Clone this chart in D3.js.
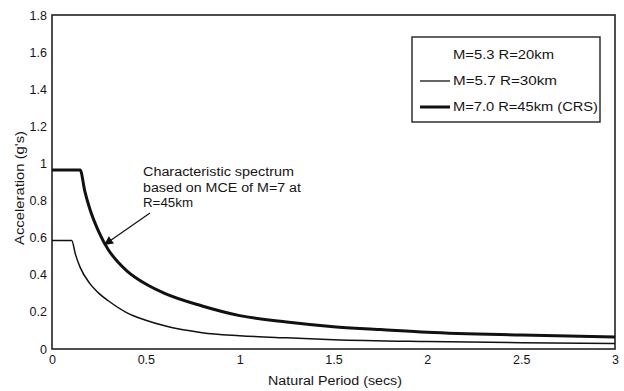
<!DOCTYPE html>
<html><head><meta charset="utf-8">
<script src="https://cdn.jsdelivr.net/npm/d3@7"></script>
<style>body{margin:0;background:#fff}svg{display:block}text{font-family:"Liberation Sans",Arial,sans-serif;fill:#151515}</style>
</head><body><svg id="c" width="624" height="391"></svg>
<script>
const periods57 = [0, 0.105, 0.125, 0.15, 0.2, 0.25, 0.3, 0.4, 0.5, 0.6, 0.8, 1.0, 1.25, 1.5, 2.0, 2.5, 3.0];
const accel57   = [0.585, 0.585, 0.51, 0.44, 0.355, 0.30, 0.26, 0.195, 0.155, 0.125, 0.088, 0.072, 0.06, 0.05, 0.04, 0.034, 0.03];
const periods70 = [0, 0.15, 0.175, 0.2, 0.25, 0.3, 0.35, 0.4, 0.5, 0.6, 0.8, 1.0, 1.25, 1.5, 1.75, 2.0, 2.5, 3.0];
const accel70   = [0.965, 0.965, 0.85, 0.76, 0.63, 0.535, 0.47, 0.42, 0.35, 0.30, 0.232, 0.18, 0.145, 0.12, 0.105, 0.09, 0.075, 0.065];
const legendLabels = ["M=5.3 R=20km", "M=5.7 R=30km", "M=7.0 R=45km (CRS)"];
const xTicks = [0, 0.5, 1, 1.5, 2, 2.5, 3];
const yTicks = [0, 0.2, 0.4, 0.6, 0.8, 1, 1.2, 1.4, 1.6, 1.8];
const noteLines = ["Characteristic spectrum", "based on MCE of M=7 at", "R=45km"];

const svg = d3.select("#c");
const L = 52, R = 615, T = 15, B = 349;
const x = d3.scaleLinear().domain([0, 3]).range([L, R]);
const y = d3.scaleLinear().domain([0, 1.8]).range([B, T]);

// frame
svg.append("rect").attr("x", L).attr("y", T).attr("width", R - L).attr("height", B - T)
  .attr("fill", "none").attr("stroke", "#222").attr("stroke-width", 1.6);

const xa = svg.append("g").attr("transform", `translate(0,${B})`)
  .call(d3.axisBottom(x).tickValues(xTicks).tickSize(0).tickPadding(6).tickFormat(d3.format("")));
const ya = svg.append("g").attr("transform", `translate(${L},0)`)
  .call(d3.axisLeft(y).tickValues(yTicks).tickSize(0).tickPadding(5).tickFormat(d3.format("")));
[xa, ya].forEach(g => { g.select(".domain").remove(); g.selectAll("text").attr("font-size", 12.5).attr("fill", "#151515").style("font-family", '"Liberation Sans",Arial,sans-serif'); });

const line = d3.line().x(d => x(d[0])).y(d => y(d[1])).curve(d3.curveMonotoneX);
svg.append("path").datum(d3.zip(periods57, accel57)).attr("d", line)
  .attr("fill", "none").attr("stroke", "#111").attr("stroke-width", 1.5);
svg.append("path").datum(d3.zip(periods70, accel70)).attr("d", line)
  .attr("fill", "none").attr("stroke", "#111").attr("stroke-width", 3);

// axis titles
svg.append("text").attr("x", 335).attr("y", 385).attr("text-anchor", "middle")
  .attr("font-size", 12).attr("textLength", 134).attr("lengthAdjust", "spacingAndGlyphs").text("Natural Period (secs)");
svg.append("text").attr("transform", "translate(24,188) rotate(-90)").attr("text-anchor", "middle")
  .attr("font-size", 12).attr("textLength", 114).attr("lengthAdjust", "spacingAndGlyphs").text("Acceleration (g's)");

// legend
const lg = svg.append("g");
lg.append("rect").attr("x", 412).attr("y", 37).attr("width", 188).attr("height", 85)
  .attr("fill", "#fff").attr("stroke", "#222").attr("stroke-width", 1.4);
const ly = [55, 81, 107];
const lw = [101, 104, 145];
legendLabels.forEach((t, i) => {
  lg.append("text").attr("x", 453).attr("y", ly[i]).attr("dy", "0.35em").attr("font-size", 12.5)
    .attr("textLength", lw[i]).attr("lengthAdjust", "spacingAndGlyphs").text(t);
  if (i > 0) lg.append("line").attr("x1", 420).attr("x2", 450).attr("y1", ly[i]).attr("y2", ly[i])
    .attr("stroke", "#111").attr("stroke-width", i === 2 ? 3 : 1.3);
});

// annotation
const nw = [151, 158, 50];
noteLines.forEach((t, i) => svg.append("text").attr("x", 143).attr("y", 176 + i * 15.5)
  .attr("font-size", 12.5).attr("textLength", nw[i]).attr("lengthAdjust", "spacingAndGlyphs").text(t));
svg.append("defs").append("marker").attr("id", "ah").attr("viewBox", "0 0 10 10")
  .attr("refX", 10).attr("refY", 5).attr("markerWidth", 10).attr("markerHeight", 9)
  .attr("markerUnits", "userSpaceOnUse").attr("orient", "auto")
  .append("path").attr("d", "M0,0 L10,5 L0,10 z").attr("fill", "#111");
svg.append("line").attr("x1", 150).attr("y1", 213).attr("x2", 104).attr("y2", 245)
  .attr("stroke", "#111").attr("stroke-width", 1.2).attr("marker-end", "url(#ah)");
</script></body></html>
